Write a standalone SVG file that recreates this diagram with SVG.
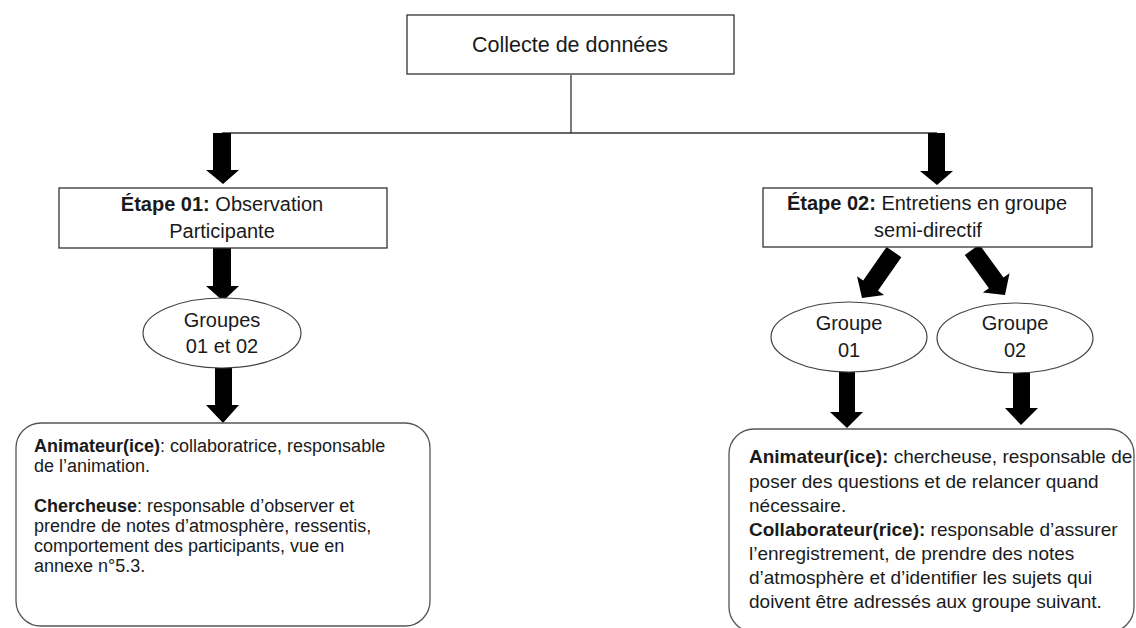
<svg xmlns="http://www.w3.org/2000/svg" width="1136" height="628" viewBox="0 0 1136 628">
<style>
text{font-family:"Liberation Sans",Arial,sans-serif;fill:#1a1a1a}
.c{text-anchor:middle}
.b{font-weight:bold}
.box{fill:#fff;stroke:#333;stroke-width:1.3}
.ell{fill:#fff;stroke:#444;stroke-width:1.2}
.rb{fill:#fff;stroke:#555;stroke-width:1.3}
.ln{stroke:#333;stroke-width:1.3;fill:none}
.ar{fill:#000}
.t20{font-size:20px}
.tl{font-size:18px}
.tr{font-size:19px}
</style>
<defs>
<polygon id="dArr" points="-9,-56 9,-56 9,-15 16.5,-15 0,0 -16.5,-15 -9,-15"/>
</defs>

<g id="connectors">
<path class="ln" d="M571,75 V133 M222,133 H937"/>
<polygon class="ar" points="213,133 231,133 231,170 239,170 223,184 206,170 213,170"/>
<polygon class="ar" points="928,133 945,133 945,171 953,171 937,185 920,171 928,171"/>
<polygon class="ar" points="213,248 231,248 231,286 239,286 223,301 206,286 213,286"/>
<polygon class="ar" points="215,368 232,368 232,405 239,405 223,423 206,405 215,405"/>
<use href="#dArr" class="ar" transform="translate(862,298) rotate(34.8)"/>
<use href="#dArr" class="ar" transform="translate(1005,295) rotate(-36)"/>
<polygon class="ar" points="839,372 855,372 855,412 863,412 847,428 830,412 839,412"/>
<polygon class="ar" points="1013,369 1030,369 1030,408 1038,408 1021,425 1005,408 1013,408"/>
</g>

<g id="collecte">
<rect class="box" x="407" y="15" width="327" height="59"/>
<text class="c" x="570" y="52" style="font-size:21.5px">Collecte de données</text>
</g>

<g id="etape01">
<rect class="box" x="59" y="188" width="328" height="60"/>
<text class="c t20" x="222" y="211"><tspan class="b">Étape 01:</tspan> Observation</text>
<text class="c t20" x="222" y="238">Participante</text>
</g>

<g id="etape02">
<rect class="box" x="763" y="188" width="329" height="59"/>
<text class="c t20" x="927" y="210"><tspan class="b">Étape 02:</tspan> Entretiens en groupe</text>
<text class="c t20" x="928" y="237">semi-directif</text>
</g>

<g id="groupes0102">
<ellipse class="ell" cx="222" cy="333" rx="79" ry="35"/>
<text class="c t20" x="222" y="327">Groupes</text>
<text class="c t20" x="222" y="353">01 et 02</text>
</g>

<g id="groupe01">
<ellipse class="ell" cx="849" cy="337" rx="78" ry="35"/>
<text class="c t20" x="849" y="330">Groupe</text>
<text class="c t20" x="849" y="357">01</text>
</g>

<g id="groupe02">
<ellipse class="ell" cx="1015" cy="338" rx="78" ry="35"/>
<text class="c t20" x="1015" y="330">Groupe</text>
<text class="c t20" x="1015" y="357">02</text>
</g>

<g id="roles01">
<rect class="rb" x="16" y="423" width="414" height="203" rx="25" ry="25"/>
<text class="tl" x="34" y="452"><tspan class="b">Animateur(ice)</tspan>: collaboratrice, responsable</text>
<text class="tl" x="34" y="472">de l’animation.</text>
<text class="tl" x="34" y="512"><tspan class="b">Chercheuse</tspan>: responsable d’observer et</text>
<text class="tl" x="34" y="532">prendre de notes d’atmosphère, ressentis,</text>
<text class="tl" x="34" y="552">comportement des participants, vue en</text>
<text class="tl" x="34" y="572">annexe n°5.3.</text>
</g>

<g id="roles02">
<rect class="rb" x="729" y="429" width="405" height="203" rx="25" ry="25"/>
<text class="tr" x="749" y="463"><tspan class="b">Animateur(ice):</tspan> chercheuse, responsable de</text>
<text class="tr" x="749" y="488">poser des questions et de relancer quand</text>
<text class="tr" x="749" y="512">nécessaire.</text>
<text class="tr" x="749" y="536"><tspan class="b">Collaborateur(rice):</tspan> responsable d’assurer</text>
<text class="tr" x="749" y="560">l’enregistrement, de prendre des notes</text>
<text class="tr" x="749" y="584">d’atmosphère et d’identifier les sujets qui</text>
<text class="tr" x="749" y="608">doivent être adressés aux groupe suivant.</text>
</g>
</svg>
